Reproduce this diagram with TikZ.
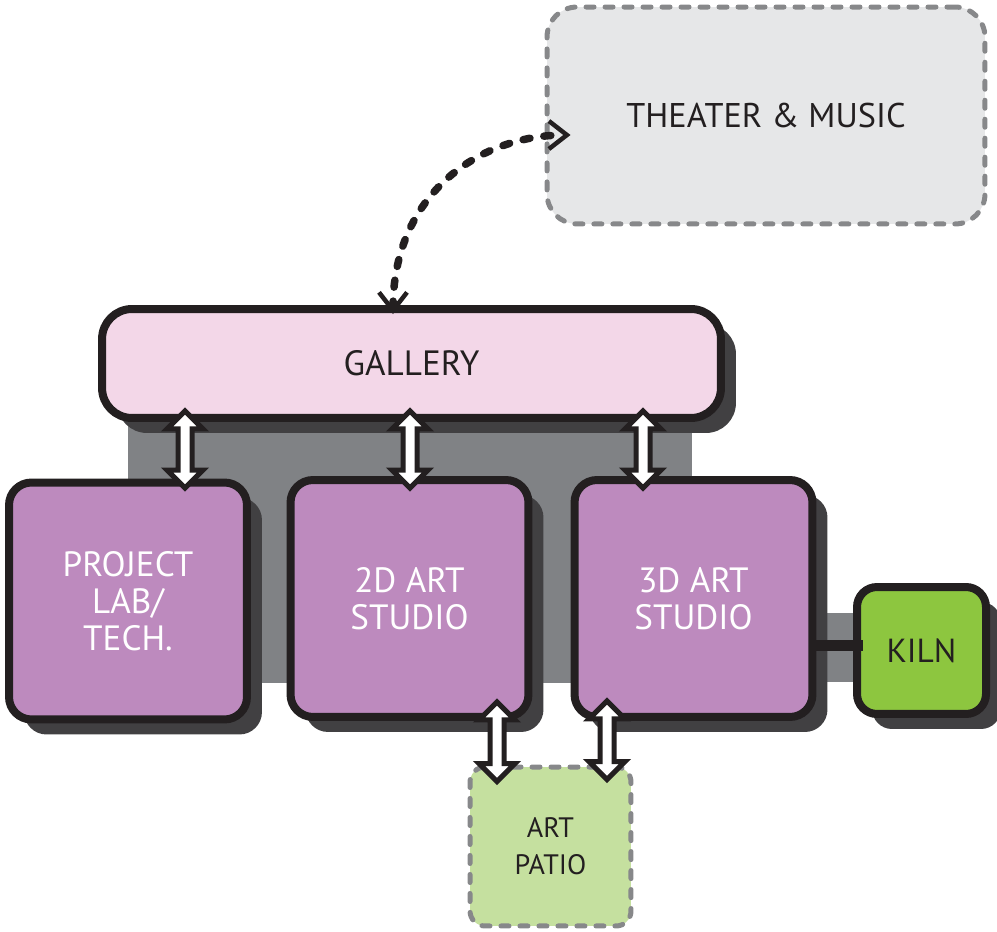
\documentclass[tikz,border=0pt]{standalone}
\usepackage{fontspec}
\setmainfont{PT Sans}
\usetikzlibrary{calc,shadows,arrows.meta}
\definecolor{inkblack}{HTML}{231F20}
\definecolor{shadowgray}{HTML}{414042}
\definecolor{bandgray}{HTML}{808285}
\definecolor{dashgray}{HTML}{87888A}
\definecolor{gallerypink}{HTML}{F3D7E8}
\definecolor{studiopurple}{HTML}{BD8ABE}
\definecolor{kilngreen}{HTML}{8DC63F}
\definecolor{patiogreen}{HTML}{C5E09F}
\definecolor{theatergray}{HTML}{E6E7E8}
% hollow two-way arrow between two named points (top, bottom)
\newcommand{\twoway}[2]{%
  \draw[twoway] (#1) -- ++(18,18) -- ++(-11,0) -- ($(#2)+(7,-18)$) -- ++(11,0)
    -- (#2) -- ++(-18,-18) -- ++(11,0) -- ($(#1)+(-7,18)$) -- ++(-11,0) -- cycle;}
\begin{document}
\begin{tikzpicture}[x=0.02cm,y=-0.02cm,
    room/.style={draw=inkblack, line width=0.16cm, rounded corners=0.45cm,
      align=center, inner sep=0pt, text=inkblack,
      font=\fontsize{20}{21}\selectfont,
      drop shadow={shadow xshift=0.3cm, shadow yshift=-0.3cm, fill=shadowgray, opacity=1}},
    studio/.style={room, fill=studiopurple, text=white,
      minimum width=4.76cm, minimum height=4.74cm},
    outdoor/.style={draw=dashgray, line width=0.1cm, line cap=round,
      dash pattern=on 0.16cm off 0.22cm, align=center, inner sep=0pt, text=inkblack},
    twoway/.style={draw=inkblack, fill=white, line width=0.1cm, line join=miter},
    kilnlink/.style={draw=inkblack, line width=0.22cm},
    flowdash/.style={draw=inkblack, line width=0.15cm, line cap=round,
      dash pattern=on 0.14cm off 0.28cm,
      {Straight Barb[length=0.36cm,width=0.56cm,line width=0.09cm]}-{Straight Barb[length=0.36cm,width=0.56cm,line width=0.09cm]}}]
  \useasboundingbox (0,0) rectangle (997,932);
  % Gray service band behind the studios
  \fill[bandgray] (128,420) rectangle (692,683);
  \fill[bandgray] (800,613) rectangle (870,682);
  % Rooms
  \node[room, fill=gallerypink, rounded corners=0.6cm,
    minimum width=12.38cm, minimum height=2.18cm] (gal) at (411.5,363.5) {GALLERY};
  \node[studio] (lab) at (128,601) {PROJECT\\LAB/\\TECH.};
  \node[studio] (art2d) at (409.5,598.5) {2D ART\\STUDIO};
  \node[studio] (art3d) at (693.5,598.5) {3D ART\\STUDIO};
  \node[room, fill=kilngreen, rounded corners=0.4cm,
    minimum width=2.58cm, minimum height=2.54cm,
    font=\fontsize{19}{21}\selectfont] (kiln) at (921.5,650.5) {KILN};
  % Outside spaces
  \node[outdoor, fill=theatergray, rounded corners=0.6cm,
    minimum width=8.76cm, minimum height=4.34cm,
    font=\fontsize{19.5}{21}\selectfont] (theater) at (766,115.5) {THEATER \& MUSIC};
  \node[outdoor, fill=patiogreen, rounded corners=0.3cm,
    minimum width=3.22cm, minimum height=3.18cm,
    font=\fontsize{16}{21}\selectfont] (patio) at (550.5,846.5) {ART\\PATIO};
  % Kiln connection
  \draw[kilnlink] ($(art3d.east |- kiln.west)+(-3,-5)$) -- ($(kiln.west)+(10,-5)$);
  % Two-way links
  \coordinate (g1) at ($(185,0 |- gal.south)+(0,-11)$);
  \coordinate (g2) at ($(410,0 |- gal.south)+(0,-11)$);
  \coordinate (g3) at ($(643,0 |- gal.south)+(0,-11)$);
  \coordinate (s1) at ($(185,0 |- art2d.north)+(0,12)$);
  \coordinate (s2) at ($(410,0 |- art2d.north)+(0,12)$);
  \coordinate (s3) at ($(643,0 |- art3d.north)+(0,12)$);
  \coordinate (p1) at ($(497,0 |- art2d.south)+(0,-19)$);
  \coordinate (p2) at ($(607,0 |- art3d.south)+(0,-20)$);
  \coordinate (q1) at ($(497,0 |- patio.north)+(0,17)$);
  \coordinate (q2) at ($(607,0 |- patio.north)+(0,15)$);
  \twoway{g1}{s1}
  \twoway{g2}{s2}
  \twoway{g3}{s3}
  \twoway{p1}{q1}
  \twoway{p2}{q2}
  % Dashed link to theater
  \draw[flowdash] ($(gal.north)+(-18.5,9)$) .. controls +(0,-118) and +(-93,0) .. ($(theater.west)+(26,19.5)$);
\end{tikzpicture}
\end{document}
